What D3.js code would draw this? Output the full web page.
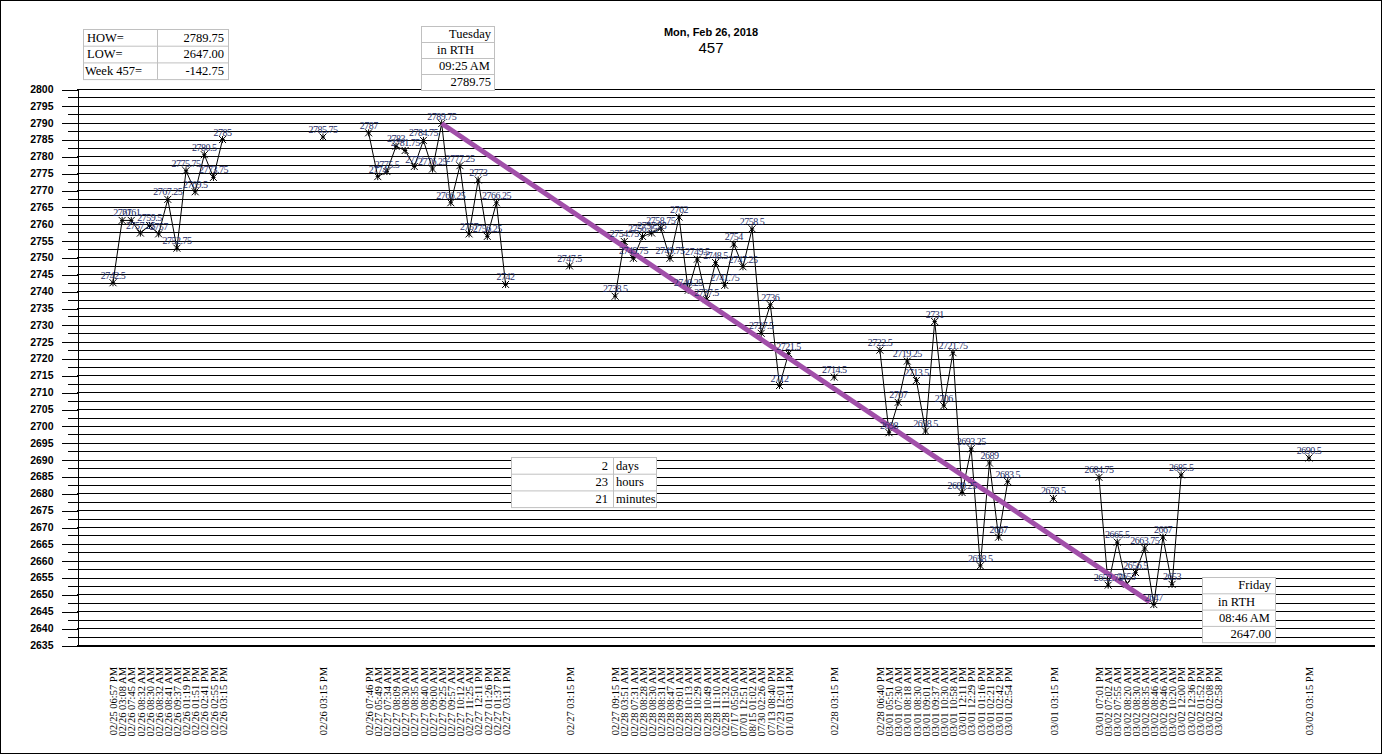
<!DOCTYPE html>
<html>
<head>
<meta charset="utf-8">
<script src="https://cdn.jsdelivr.net/npm/d3@7"></script>
<style>
  body { margin: 0; background: #fff; }
  svg { display: block; }
</style>
</head>
<body>
<svg id="drawing_region"></svg>
<script>
// category slots of the x axis, "" = empty slot
const categories = [
  "02/25 06:57 PM","02/26 03:08 AM","02/26 07:45 AM","02/26 08:32 AM","02/26 08:30 AM","02/26 08:32 AM","02/26 08:41 AM",
  "02/26 09:37 AM","02/26 01:19 PM","02/26 01:51 PM","02/26 02:41 PM","02/26 02:55 PM","02/26 03:15 PM",
  "","","","","","","","","","",
  "02/26 03:15 PM",
  "","","","",
  "02/26 07:46 PM","02/27 05:49 AM","02/27 07:34 AM","02/27 08:09 AM","02/27 08:30 AM","02/27 08:35 AM","02/27 08:40 AM",
  "02/27 09:00 AM","02/27 09:25 AM","02/27 09:57 AM","02/27 10:12 AM","02/27 11:25 AM","02/27 12:11 PM","02/27 01:26 PM",
  "02/27 01:37 PM","02/27 03:11 PM",
  "","","","","","",
  "02/27 03:15 PM",
  "","","","",
  "02/27 09:15 PM","02/28 03:51 AM","02/28 07:31 AM","02/28 08:28 AM","02/28 08:30 AM","02/28 08:31 AM","02/28 08:47 AM",
  "02/28 09:01 AM","02/28 10:13 AM","02/28 10:29 AM","02/28 10:49 AM","02/28 11:10 AM","02/28 11:32 AM","07/17 05:50 AM",
  "07/01 12:51 AM","08/15 01:02 AM","07/30 02:26 AM","07/13 08:40 PM","07/23 12:01 PM","01/01 03:14 PM",
  "","","","",
  "02/28 03:15 PM",
  "","","","",
  "02/28 06:40 PM","03/01 05:51 AM","03/01 07:30 AM","03/01 08:18 AM","03/01 08:30 AM","03/01 09:01 AM","03/01 09:37 AM",
  "03/01 10:30 AM","03/01 10:58 AM","03/01 12:11 PM","03/01 12:29 PM","03/01 01:16 PM","03/01 02:21 PM","03/01 02:42 PM",
  "03/01 02:54 PM",
  "","","","",
  "03/01 03:15 PM",
  "","","","",
  "03/01 07:01 PM","03/02 07:02 AM","03/02 07:55 AM","03/02 08:20 AM","03/02 08:30 AM","03/02 08:35 AM","03/02 08:46 AM",
  "03/02 09:46 AM","03/02 10:20 AM","03/02 12:00 PM","03/02 12:36 PM","03/02 01:52 PM","03/02 02:08 PM","03/02 02:58 PM",
  "","","","","","","","","",
  "03/02 03:15 PM"
];

const prices = [
  2742.5, 2761, 2761, 2757.25, 2759.5, 2757, 2767.25, 2752.75, 2775.75, 2769.5, 2780.5, 2773.75, 2785,
  null, null, null, null, null, null, null, null, null, null,
  2785.75,
  null, null, null, null,
  2787, 2774, 2775.5, 2783, 2781.75, 2777, 2784.75, 2776.25, 2789.75, 2766.25, 2777.25, 2757, 2773, 2756.25,
  2766.25, 2742,
  null, null, null, null, null, null,
  2747.5,
  null, null, null, null,
  2738.5, 2754.75, 2749.75, 2756.25, 2757.25, 2758.75, 2749.75, 2762, 2740.25, 2749.5, 2737.5, 2748.5, 2741.75, 2754,
  2747.25, 2758.5, 2727.5, 2736, 2712, 2721.5,
  null, null, null, null,
  2714.5,
  null, null, null, null,
  2722.5, 2698, 2707, 2719.25, 2713.5, 2698.5, 2731, 2706, 2721.75, 2680.25, 2693.25, 2658.5, 2689, 2667, 2683.5,
  null, null, null, null,
  2678.5,
  null, null, null, null,
  2684.75, 2652.75, 2665.5, 2653, 2656.5, 2663.75, 2647, 2667, 2653, 2685.5, null, null, null, null,
  null, null, null, null, null, null, null, null, null,
  2690.5
];

const yTicks = d3.range(2635, 2800.1, 5);
const yMinor = d3.range(2637.5, 2800, 5);
const titleDate = "Mon, Feb 26, 2018";
const weekNo = "457";
const highBox = ["Tuesday", "in RTH", "09:25 AM"];
const lowBox = ["Friday", "in RTH", "08:46 AM"];

const config = {
    width: 1382,
    height: 754,
    plot: { left: 77, right: 1375, top: 89, bottom: 645 }
};

const svg = d3.select('#drawing_region')
    .attr('width', config.width)
    .attr('height', config.height);

svg.append('rect')
    .attr('x', 0.5).attr('y', 0.5)
    .attr('width', config.width - 1).attr('height', config.height - 1)
    .attr('fill', '#fff').attr('stroke', '#000');

const data = categories.map((c, i) => ({ i: i, label: c, v: prices[i] }));
const points = data.filter(d => d.v != null);

const xscale = d3.scaleLinear()
    .domain([0, categories.length - 1])
    .range([113, 1309]);

const yscale = d3.scaleLinear()
    .domain([2635, 2800])
    .range([config.plot.bottom, config.plot.top]);

// horizontal grid lines
const grid = svg.append('g').attr('shape-rendering', 'crispEdges');
grid.selectAll('.minor').data(yMinor).join('line')
    .attr('x1', 68).attr('x2', config.plot.right)
    .attr('y1', d => Math.round(yscale(d)) + 0.5).attr('y2', d => Math.round(yscale(d)) + 0.5)
    .attr('stroke', '#000');
grid.selectAll('.major').data(yTicks).join('line')
    .attr('x1', config.plot.left).attr('x2', config.plot.right)
    .attr('y1', d => Math.round(yscale(d)) + 0.5).attr('y2', d => Math.round(yscale(d)) + 0.5)
    .attr('stroke', '#000');

// y axis
const yaxis = d3.axisLeft(yscale)
    .tickValues(yTicks)
    .tickSize(16)
    .tickSizeOuter(0)
    .tickPadding(8)
    .tickFormat(d3.format('d'));

const yaxis_group = svg.append('g')
    .attr('transform', `translate(${config.plot.left + 0.5}, 0)`)
    .attr('shape-rendering', 'crispEdges')
    .call(yaxis);
yaxis_group.selectAll('.tick line').attr('transform', 'translate(0,0.5)');
yaxis_group.selectAll('text')
    .attr('font-family', 'Liberation Sans, Arial, sans-serif')
    .attr('font-size', 10.5)
    .attr('font-weight', 'bold')
    .attr('fill', '#000');

// x axis
const xaxis = d3.axisBottom(xscale)
    .tickValues(data.filter(d => d.label !== '').map(d => d.i))
    .tickFormat(i => categories[i])
    .tickSize(0);

const xaxis_group = svg.append('g')
    .attr('transform', `translate(0, ${config.plot.bottom})`)
    .call(xaxis);
xaxis_group.select('.domain').remove();
xaxis_group.selectAll('text')
    .attr('transform', 'rotate(-90)')
    .attr('text-anchor', 'end')
    .attr('x', -22)
    .attr('y', 0)
    .attr('dy', '0.35em')
    .attr('font-family', 'Liberation Serif, Times New Roman, serif')
    .attr('font-size', 10.5)
    .attr('fill', '#000');

svg.append('line')
    .attr('x1', config.plot.left).attr('x2', config.plot.right)
    .attr('y1', config.plot.bottom + 1).attr('y2', config.plot.bottom + 1)
    .attr('stroke', '#000').attr('stroke-width', 2);

// price line
const line = d3.line()
    .defined(d => d.v != null)
    .x(d => xscale(d.i))
    .y(d => yscale(d.v));

svg.append('path')
    .attr('d', line(data))
    .attr('fill', 'none')
    .attr('stroke', '#000')
    .attr('stroke-width', 1);

// star markers
const star = r => {
    const p = d3.path();
    p.moveTo(0, -r); p.lineTo(0, r);
    p.moveTo(-r, -r); p.lineTo(r, r);
    p.moveTo(-r, r); p.lineTo(r, -r);
    p.moveTo(-r * 0.6, 0); p.lineTo(r * 0.6, 0);
    return p.toString();
};

svg.append('g').selectAll('path').data(points).join('path')
    .attr('transform', d => `translate(${xscale(d.i)}, ${yscale(d.v)})`)
    .attr('d', star(3.5))
    .attr('fill', 'none')
    .attr('stroke', '#000')
    .attr('stroke-width', 1);

// high to low line
const hi = points[d3.maxIndex(points, d => d.v)];
const lo = points[d3.minIndex(points, d => d.v)];

svg.append('line')
    .attr('x1', xscale(hi.i)).attr('y1', yscale(hi.v))
    .attr('x2', xscale(lo.i) - 4).attr('y2', yscale(lo.v) - 2.7)
    .attr('stroke', '#a14fa9')
    .attr('stroke-width', 5);

// point labels
svg.append('g').selectAll('text').data(points).join('text')
    .attr('x', d => xscale(d.i))
    .attr('y', d => yscale(d.v) - 4)
    .attr('text-anchor', 'middle')
    .attr('font-family', 'Liberation Serif, Times New Roman, serif')
    .attr('font-size', 10)
    .attr('letter-spacing', -0.5)
    .attr('fill', '#1e2c66')
    .text(d => String(d.v));

// title
svg.append('text')
    .attr('x', 711).attr('y', 36)
    .attr('text-anchor', 'middle')
    .attr('font-family', 'Liberation Sans, Arial, sans-serif')
    .attr('font-size', 11).attr('font-weight', 'bold')
    .text(titleDate);
svg.append('text')
    .attr('x', 711).attr('y', 52.5)
    .attr('text-anchor', 'middle')
    .attr('font-family', 'Liberation Sans, Arial, sans-serif')
    .attr('font-size', 15)
    .text(weekNo);

// text boxes
const fmt = v => d3.format('.2f')(v).replace('\u2212', '-');

function drawBox(x, y, w, rowH, splits, rows) {
    const g = svg.append('g');
    g.append('rect')
        .attr('x', x + 0.5).attr('y', y + 0.5)
        .attr('width', w).attr('height', rowH * rows.length)
        .attr('fill', '#fff').attr('stroke', '#c0c0c0');
    rows.forEach((r, k) => {
        if (k > 0) {
            g.append('line')
                .attr('x1', x).attr('x2', x + w)
                .attr('y1', y + k * rowH + 0.5).attr('y2', y + k * rowH + 0.5)
                .attr('stroke', '#c0c0c0');
        }
        r.forEach(c => {
            g.append('text')
                .attr('x', c.x).attr('y', y + k * rowH + rowH - 4)
                .attr('text-anchor', c.anchor)
                .attr('font-family', 'Liberation Serif, Times New Roman, serif')
                .attr('font-size', 12.5)
                .attr('fill', '#000')
                .text(c.t);
        });
    });
    splits.forEach(sx => {
        g.append('line')
            .attr('x1', sx + 0.5).attr('x2', sx + 0.5)
            .attr('y1', y).attr('y2', y + rowH * rows.length)
            .attr('stroke', '#c0c0c0');
    });
}

drawBox(83, 29, 145, 16.7, [157], [
    [{ t: 'HOW=', x: 87, anchor: 'start' }, { t: fmt(hi.v), x: 224, anchor: 'end' }],
    [{ t: 'LOW=', x: 87, anchor: 'start' }, { t: fmt(lo.v), x: 224, anchor: 'end' }],
    [{ t: `Week ${weekNo}=`, x: 85, anchor: 'start' }, { t: fmt(lo.v - hi.v), x: 224, anchor: 'end' }]
]);

drawBox(421, 26, 73, 16, [], [
    [{ t: highBox[0], x: 491, anchor: 'end' }],
    [{ t: highBox[1], x: 437, anchor: 'start' }],
    [{ t: highBox[2], x: 490, anchor: 'end' }],
    [{ t: fmt(hi.v), x: 491, anchor: 'end' }]
]);

drawBox(1202, 577, 73, 16.3, [], [
    [{ t: lowBox[0], x: 1271, anchor: 'end' }],
    [{ t: lowBox[1], x: 1218, anchor: 'start' }],
    [{ t: lowBox[2], x: 1270, anchor: 'end' }],
    [{ t: fmt(lo.v), x: 1271, anchor: 'end' }]
]);

// time between high and low
const parse = d3.timeParse('%m/%d %I:%M %p');
const mins = Math.round((parse(lo.label) - parse(hi.label)) / 60000);
const dd = Math.floor(mins / 1440), hh = Math.floor((mins % 1440) / 60), mm = mins % 60;

drawBox(511, 457, 145, 16.7, [613], [
    [{ t: dd, x: 608, anchor: 'end' }, { t: 'days', x: 616, anchor: 'start' }],
    [{ t: hh, x: 608, anchor: 'end' }, { t: 'hours', x: 616, anchor: 'start' }],
    [{ t: mm, x: 608, anchor: 'end' }, { t: 'minutes', x: 616, anchor: 'start' }]
]);
</script>
</body>
</html>
